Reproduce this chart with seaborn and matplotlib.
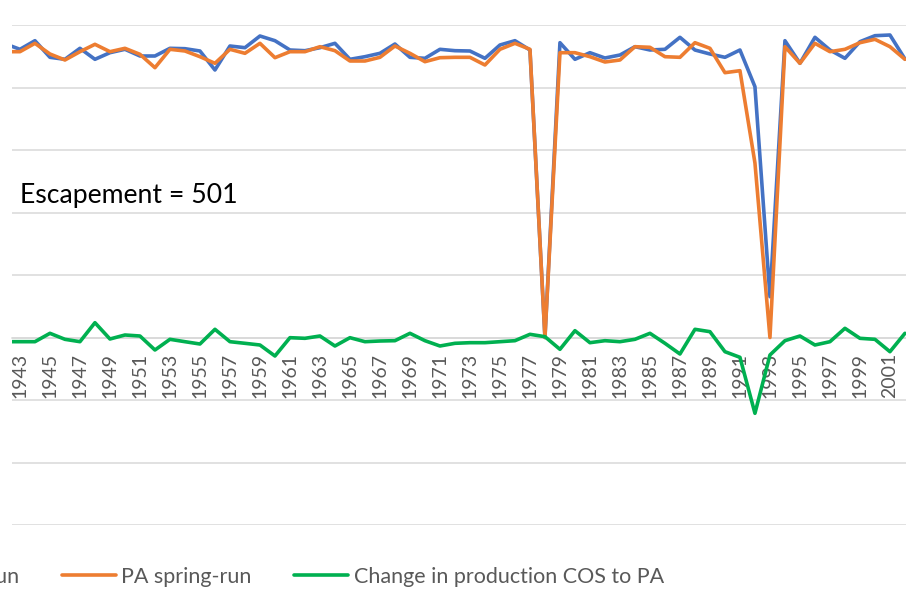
import numpy as np
import pandas as pd
import matplotlib
matplotlib.use("Agg")
import matplotlib.pyplot as plt
import seaborn as sns

# Data (one gridline = 1000)
years = list(range(1942, 2003))

cos_spring_run = [
    4700, 4611, 4749, 4483, 4451, 4627, 4451, 4557, 4611, 4504,
    4504, 4627, 4621, 4584, 4280, 4664, 4637, 4824, 4749, 4600,
    4589, 4637, 4707, 4451, 4493, 4547, 4696, 4483, 4467, 4611,
    4589, 4584, 4467, 4680, 4749, 4600, 0, 4717, 4451, 4557,
    4472, 4520, 4653, 4600, 4611, 4803, 4600, 4536, 4483, 4600,
    4013, 653, 4749, 4387, 4803, 4600, 4467, 4733, 4829, 4840,
    4456,
]

pa_spring_run = [
    4573, 4573, 4707, 4536, 4440, 4573, 4691, 4573, 4627, 4531,
    4317, 4611, 4584, 4493, 4387, 4611, 4547, 4707, 4477, 4573,
    4573, 4653, 4589, 4424, 4424, 4483, 4664, 4547, 4413, 4477,
    4483, 4483, 4360, 4611, 4707, 4611, 0, 4557, 4557, 4493,
    4408, 4440, 4653, 4643, 4493, 4483, 4717, 4627, 4237, 4269,
    2792, 0, 4653, 4387, 4707, 4573, 4611, 4717, 4771, 4653,
    4451,
]

change_cos_to_pa = [
    -67, -67, -67, 67, -29, -67, 237, -24, 40, 24,
    -200, -29, -67, -104, 131, -67, -93, -120, -296, -3,
    -13, 24, -136, -3, -67, -56, -51, 67, -51, -136,
    -93, -83, -83, -67, -51, 51, 13, -189, 109, -83,
    -51, -67, -29, 67, -93, -264, 131, 93, -227, -317,
    -1213, -280, -51, 24, -120, -67, 147, -13, -29, -227,
    67,
]

series_names = ["COS spring-run", "PA spring-run", "Change in production COS to PA"]
colors = ["#4472C4", "#ED7D31", "#00B050"]

df = pd.DataFrame({
    "year": years * 3,
    "value": cos_spring_run + pa_spring_run + change_cos_to_pa,
    "series": [series_names[0]] * len(years) + [series_names[1]] * len(years)
              + [series_names[2]] * len(years),
})

sns.set_style("white")
plt.rcParams["font.family"] = ["Lato", "DejaVu Sans"]

fig = plt.figure(figsize=(9.06, 5.91), dpi=100)
ax = fig.add_axes([12 / 906, 1 - 525 / 591, 1 - 12 / 906, 500 / 591])

sns.lineplot(data=df, x="year", y="value", hue="series", hue_order=series_names,
             palette=colors, linewidth=2.6, legend=False, ax=ax)

ax.set_xlim(1942.47, 2002.07)
ax.set_ylim(-3000, 5000)
ax.set_yticks(np.arange(-3000, 5001, 1000))
ax.yaxis.grid(True, color="#d9d9d9", linewidth=1.1)
ax.set_axisbelow(True)
ax.tick_params(axis="y", left=False, labelleft=False)

# category axis crosses at zero
for s in ["top", "right", "left"]:
    ax.spines[s].set_visible(False)
ax.spines["bottom"].set_position(("data", 0))
ax.spines["bottom"].set_color("#d9d9d9")
ax.spines["bottom"].set_linewidth(1.1)
ax.spines["bottom"].set_zorder(0)

ax.set_xticks(range(1943, 2003, 2))
ax.set_xticklabels([str(y) for y in range(1943, 2003, 2)], rotation=90,
                   fontsize=14, color="#595959")
ax.tick_params(axis="x", length=0, pad=11)
ax.set_xlabel("")
ax.set_ylabel("")

fig.text(20 / 906, 1 - 195 / 591, "Escapement = 501", fontsize=19.2,
         color="black", va="center", ha="left")

handles = ax.get_lines()[:3]
leg = fig.legend(handles, series_names, loc="center left", ncol=3,
                 bbox_to_anchor=(0, 1 - 577 / 591), frameon=False,
                 fontsize=15.5, handlelength=2.5, handletextpad=0.25,
                 columnspacing=2.0, labelcolor="#595959")
fig.canvas.draw()
x0 = leg.get_texts()[1].get_window_extent().x0
shift = (121 - x0) / 906
leg.set_bbox_to_anchor((shift, 1 - 577 / 591), transform=fig.transFigure)

fig.savefig("out.png", dpi=100)
